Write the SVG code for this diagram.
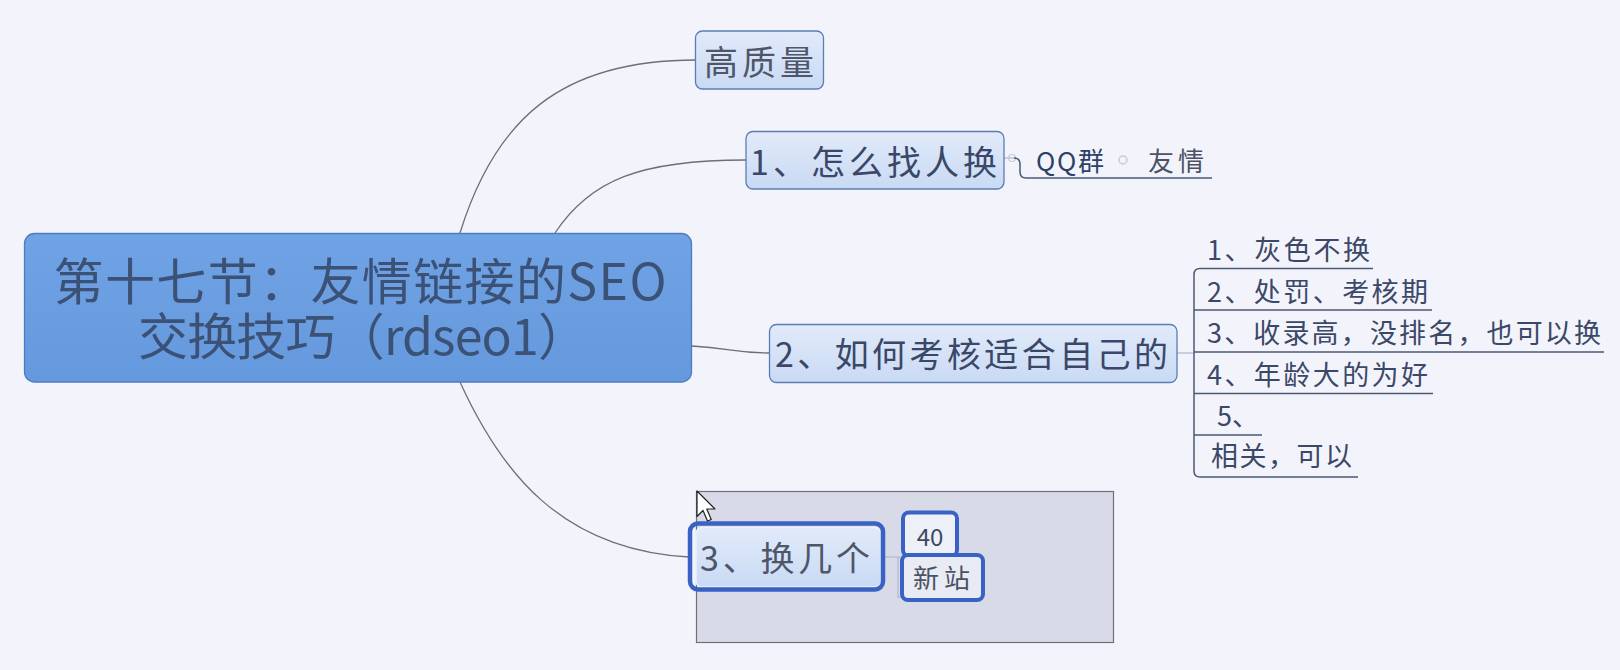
<svg xmlns="http://www.w3.org/2000/svg" width="1620" height="670" viewBox="0 0 1620 670">
  <defs>
    <linearGradient id="gNode" x1="0" y1="0" x2="0" y2="1">
      <stop offset="0" stop-color="#e1eafa"/>
      <stop offset="1" stop-color="#c9daf4"/>
    </linearGradient>
    <linearGradient id="gRoot" x1="0" y1="0" x2="0" y2="1">
      <stop offset="0" stop-color="#6fa3e5"/>
      <stop offset="1" stop-color="#6599dd"/>
    </linearGradient>
    <style>
      .t { font-family: "Noto Sans CJK SC", "Noto Sans", sans-serif; }
      .node { fill: url(#gNode); stroke: #5b7db4; stroke-width: 1.3; }
      .main { font-size: 34px; fill: #3a4768; }
      .gray { fill: #4f566a; }
      .sub { font-size: 27px; fill: #3b4868; }
      .curve { fill: none; stroke: #6c6f78; stroke-width: 1.3; }
      .faint { fill: none; stroke: #b4bccf; stroke-width: 1.3; }
      .uline { fill: none; stroke: #4b5975; stroke-width: 1.5; }
      .sel { fill: none; stroke: #3a61c4; stroke-width: 4.5; }
    </style>
  </defs>

  <rect x="0" y="0" width="1620" height="670" fill="#f3f4fb"/>

  <g id="selection-area">
    <rect x="696.5" y="491.5" width="417" height="151" fill="#d9dae7" stroke="#6e707c" stroke-width="1.2"/>
  </g>

  <g id="connectors">
    <path class="curve" d="M460,233 C495,120 560,60 696,60"/>
    <path class="curve" d="M555,233 C590,180 640,160 746,160"/>
    <path class="curve" d="M692,346 C730,348 735,353 769,353"/>
    <path class="curve" d="M460,382 C500,470 560,550 689,557"/>
    <path class="faint" d="M1004,158 H1014"/>
    <circle cx="1012" cy="158" r="3.5" fill="none" stroke="#c3c9d9" stroke-width="1.2"/>
    <path class="uline" d="M1014,158 Q1020,158 1020,164 V172 Q1020,178 1026,178 H1212"/>
    <circle cx="1123" cy="160" r="4" fill="none" stroke="#c6cbd9" stroke-width="1.5"/>
    <path class="faint" d="M1177,353 H1194"/>
    <path class="uline" d="M1373,268.5 H1200 Q1194,268.5 1194,274.5 V471 Q1194,477 1200,477 H1358"/>
    <path class="uline" d="M1194,310 H1432"/>
    <path class="uline" d="M1194,352 H1604"/>
    <path class="uline" d="M1194,393.5 H1433"/>
    <path class="uline" d="M1194,435 H1262"/>
    <path class="faint" d="M882,557 H900"/>
    <path class="faint" d="M898,557 V597 H902"/>
  </g>

  <g id="root">
    <rect x="24.5" y="233.5" width="667" height="148.5" rx="10" fill="url(#gRoot)" stroke="#4e7bbf" stroke-width="1.3"/>
    <text class="t" font-size="50" text-anchor="middle" fill="#3c5176"><tspan x="360" y="300" textLength="613">第十七节：友情链接的SEO</tspan><tspan x="363" y="355" textLength="450">交换技巧（rdseo1）</tspan></text>
  </g>

  <g id="node-quality">
    <rect class="node" x="695.5" y="31" width="128" height="58" rx="7"/>
    <text class="t main gray" x="704" y="74.5" font-size="36" textLength="110">高质量</text>
  </g>

  <g id="node-1">
    <rect class="node" x="746" y="131.5" width="258" height="57.5" rx="7"/>
    <text class="t main" x="750" y="175" font-size="35" textLength="247">1、怎么找人换</text>
  </g>

  <g id="node-qq">
    <text class="t" x="1036" y="171" font-size="26" textLength="68" fill="#2f3f68">QQ群</text>
  </g>
  <g id="node-youqing">
    <text class="t" x="1148" y="171" font-size="26" textLength="56" fill="#4c5266">友情</text>
  </g>

  <g id="node-2">
    <rect class="node" x="769.5" y="324.5" width="407.5" height="58" rx="7"/>
    <text class="t main" x="775" y="367" textLength="393">2、如何考核适合自己的</text>
  </g>

  <g id="item-1"><text class="t sub" x="1207" y="260" textLength="163">1、灰色不换</text></g>
  <g id="item-2"><text class="t sub" x="1207" y="302" textLength="221">2、处罚、考核期</text></g>
  <g id="item-3"><text class="t sub" x="1207" y="343" textLength="394">3、收录高，没排名，也可以换</text></g>
  <g id="item-4"><text class="t sub" x="1207" y="385" textLength="221">4、年龄大的为好</text></g>
  <g id="item-5"><text class="t sub" x="1217" y="426">5、</text></g>
  <g id="item-6"><text class="t sub" x="1211" y="466" textLength="141">相关，可以</text></g>

  <g id="node-3">
    <rect x="696" y="527.5" width="185" height="59.5" rx="6" fill="url(#gNode)" stroke="#eef2fb" stroke-width="1.5"/>
    <rect class="sel" x="690" y="523.5" width="193" height="66" rx="8"/>
    <text class="t main gray" x="700" y="571" textLength="170">3、换几个</text>
  </g>

  <g id="node-40">
    <rect x="903" y="512.5" width="54" height="43.5" rx="6" fill="#eef0f8" stroke="#3a61c4" stroke-width="4"/>
    <text class="t" x="930" y="546" font-size="24" text-anchor="middle" fill="#404861">40</text>
  </g>

  <g id="node-xinzhan">
    <rect x="902" y="555" width="81" height="45" rx="6" fill="#e9ebf4" stroke="#3a61c4" stroke-width="4"/>
    <text class="t" x="913" y="588" font-size="26" textLength="57" fill="#4c5266">新站</text>
  </g>

  <g id="cursor" transform="translate(697,491) scale(1.5)">
    <polygon points="0,0 0,17 4,13 7,20 9.5,19 6.5,12 12,12" fill="#ffffff" stroke="#222222" stroke-width="0.8" stroke-linejoin="round"/>
  </g>
</svg>
